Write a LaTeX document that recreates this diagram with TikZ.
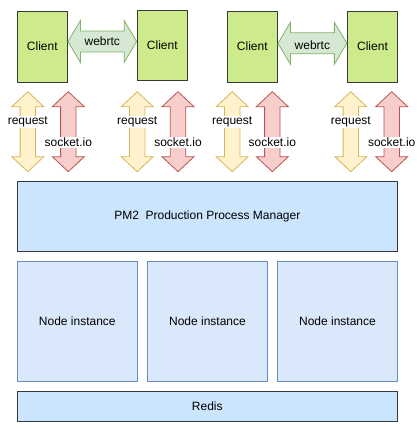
\documentclass[tikz,border=0pt]{standalone}
\usepackage{fontspec}
\setmainfont{Liberation Sans}
\usetikzlibrary{positioning,calc}
\definecolor{darkline}{HTML}{36393D}
\definecolor{clientfill}{HTML}{CDEB8B}
\definecolor{webfill}{HTML}{D5E8D4}
\definecolor{webdraw}{HTML}{82B366}
\definecolor{reqfill}{HTML}{FFF2CC}
\definecolor{reqdraw}{HTML}{D6B656}
\definecolor{sockfill}{HTML}{F8CECC}
\definecolor{sockdraw}{HTML}{B85450}
\definecolor{pmfill}{HTML}{CCE5FF}
\definecolor{nodefill}{HTML}{DAE8FC}
\definecolor{nodedraw}{HTML}{6C8EBF}
% block arrow lying between two tips: style, left tip, right tip
\newcommand{\webpipe}[3]{%
	\draw[#1] (#2) -- ++(12.5,-21) -- ++(0,10.5) -- ($(#3)+(-12.5,-10.5)$) -- ++(0,-10.5) -- (#3)
		-- ++(-12.5,21) -- ++(0,-10.5) -- ($(#2)+(12.5,10.5)$) -- ++(0,10.5) -- cycle;}
% upright block arrow: style, upper tip
\newcommand{\updown}[2]{%
	\draw[#1] (#2) -- ++(16,15) -- ++(-8.3,0) -- ++(0,50) -- ++(8.3,0) -- ++(-16,15)
		-- ++(-16,-15) -- ++(8.3,0) -- ++(0,-50) -- ++(-8.3,0) -- cycle;}
\begin{document}
\begin{tikzpicture}[x=1pt,y=-1pt,line width=0.8pt,
	font=\fontsize{12}{14}\selectfont,
	client/.style = {rectangle,draw=darkline,fill=clientfill,inner sep=0pt,minimum width=50.5pt,minimum height=71pt},
	webarrow/.style = {draw=webdraw,fill=webfill,line join=miter},
	reqarrow/.style = {draw=reqdraw,fill=reqfill,line join=miter},
	sockarrow/.style = {draw=sockdraw,fill=sockfill,line join=miter},
	lbl/.style = {fill=white,inner sep=1pt},
	wide box/.style = {rectangle,draw=darkline,fill=pmfill,inner sep=0pt,minimum width=380.5pt},
	instance/.style = {rectangle,draw=nodedraw,fill=nodefill,inner sep=0pt,minimum width=120.5pt,minimum height=120.3pt}]
	
	\useasboundingbox (0,0) rectangle (417,428);
	
	\node[client] (c1) at (42.3,46.5) {Client};
	\node[client,minimum height=70pt] (c2) at (162.3,45) {Client};
	\node[client] (c3) at (252.3,46.5) {Client};
	\node[client] (c4) at (372.5,46.5) {Client};
	
	% peer to peer links
	\coordinate (w1a) at ([yshift=5pt]c1.east);
	\coordinate (w1b) at (c2.west |- w1a);
	\coordinate (w2a) at ([yshift=3.2pt]c3.east);
	\coordinate (w2b) at (c4.west |- w2a);
	\webpipe{webarrow}{w1a}{w1b}
	\webpipe{webarrow}{w2a}{w2b}
	\node (wt1) at ($(w1a)!0.5!(w1b)$) {webrtc};
	\node (wt2) at ($(w2a)!0.5!(w2b)+(0,1.5)$) {webrtc};
	
	% client to server links
	\foreach \i/\rx/\sx in {1/27.8/68.3,2/137.2/178,3/232.2/272.3,4/350.8/391.7}{
		\coordinate (r\i) at (\rx,91.7);
		\coordinate (s\i) at (\sx,91.7);
		\updown{reqarrow}{r\i}
		\updown{sockarrow}{s\i}
		\node[lbl] (rl\i) at ($(r\i)+(0,30)$) {request};
		\node[lbl] (sl\i) at ($(s\i)+(0,51)$) {socket.io};
	}
	
	\node[wide box,minimum height=70pt] (pm2) at (207.3,216) {PM2\ \ Production Process Manager};
	\node[instance] (n1) at (77.3,321.2) {Node instance};
	\node[instance] (n2) at (207.5,321.2) {Node instance};
	\node[instance] (n3) at (337.5,321.2) {Node instance};
	\node[wide box,minimum height=30pt] (redis) at (207.3,406) {Redis};
\end{tikzpicture}
\end{document}
